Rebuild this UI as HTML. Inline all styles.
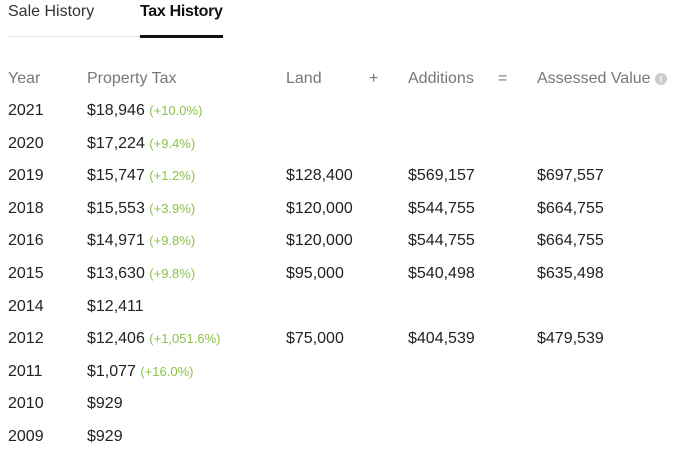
<!DOCTYPE html>
<html><head><meta charset="utf-8"><style>
body{margin:0;width:690px;height:468px;background:#fff;font-family:"Liberation Sans",sans-serif;position:relative;overflow:hidden;color:#222}
.t{position:absolute;white-space:nowrap;font-size:16px;line-height:20px}
.h{color:#777}
.g{color:#8bc34a;font-size:13px}
.tab{position:absolute;top:2px;font-size:16px;line-height:20px}
</style></head><body>
<div class="tab" style="left:8px;color:#333">Sale History</div>
<div class="tab" style="left:140px;font-weight:bold;color:#111;letter-spacing:-0.3px">Tax History</div>
<div style="position:absolute;left:8px;top:36px;width:132px;height:1px;background:#e6e6e6"></div>
<div style="position:absolute;left:140px;top:35px;width:83px;height:3px;background:#111"></div>
<div id="tbl"></div>
<script>
const years=["2021","2020","2019","2018","2016","2015","2014","2012","2011","2010","2009"];
const taxes=["$18,946","$17,224","$15,747","$15,553","$14,971","$13,630","$12,411","$12,406","$1,077","$929","$929"];
const changes=["(+10.0%)","(+9.4%)","(+1.2%)","(+3.9%)","(+9.8%)","(+9.8%)","","(+1,051.6%)","(+16.0%)","",""];
const lands=["","","$128,400","$120,000","$120,000","$95,000","","$75,000","","",""];
const additions=["","","$569,157","$544,755","$544,755","$540,498","","$404,539","","",""];
const assessed=["","","$697,557","$664,755","$664,755","$635,498","","$479,539","","",""];
const tbl=document.getElementById('tbl');
function add(txt,x,y,cls,name){
  const d=document.createElement('div');
  d.className='t '+cls;
  d.style.left=x+'px';d.style.top=y+'px';
  d.innerHTML=txt;
  
  
  tbl.appendChild(d);return d;
}
add('Year',8,69,'h','year-header');
add('Property Tax',87,69,'h','property-tax-header');
add('Land',286,69,'h','land-header');
add('+',369,69,'h','plus-sign');
add('Additions',408,69,'h','additions-header');
add('=',498,69,'h','equals-sign');
const av=add('Assessed Value <span style="display:inline-block;width:12px;height:12px;border-radius:6px;background:#ccc;color:#fff;font-size:9px;line-height:12px;text-align:center;vertical-align:1px;font-weight:bold">i</span>',537,69,'h','assessed-value-header');
const rowY=i=>101+i*32.6;
years.forEach((y,i)=>{
  const ty=rowY(i);
  add(y,8,ty,'','year-cell');
  const c=add(taxes[i]+(changes[i]?' <span class="g">'+changes[i]+'</span>':''),87,ty,'','property-tax-cell');
  if(lands[i])add(lands[i],286,ty,'','land-cell');
  if(additions[i])add(additions[i],408,ty,'','additions-cell');
  if(assessed[i])add(assessed[i],537,ty,'','assessed-value-cell');
});
</script>
</body></html>
